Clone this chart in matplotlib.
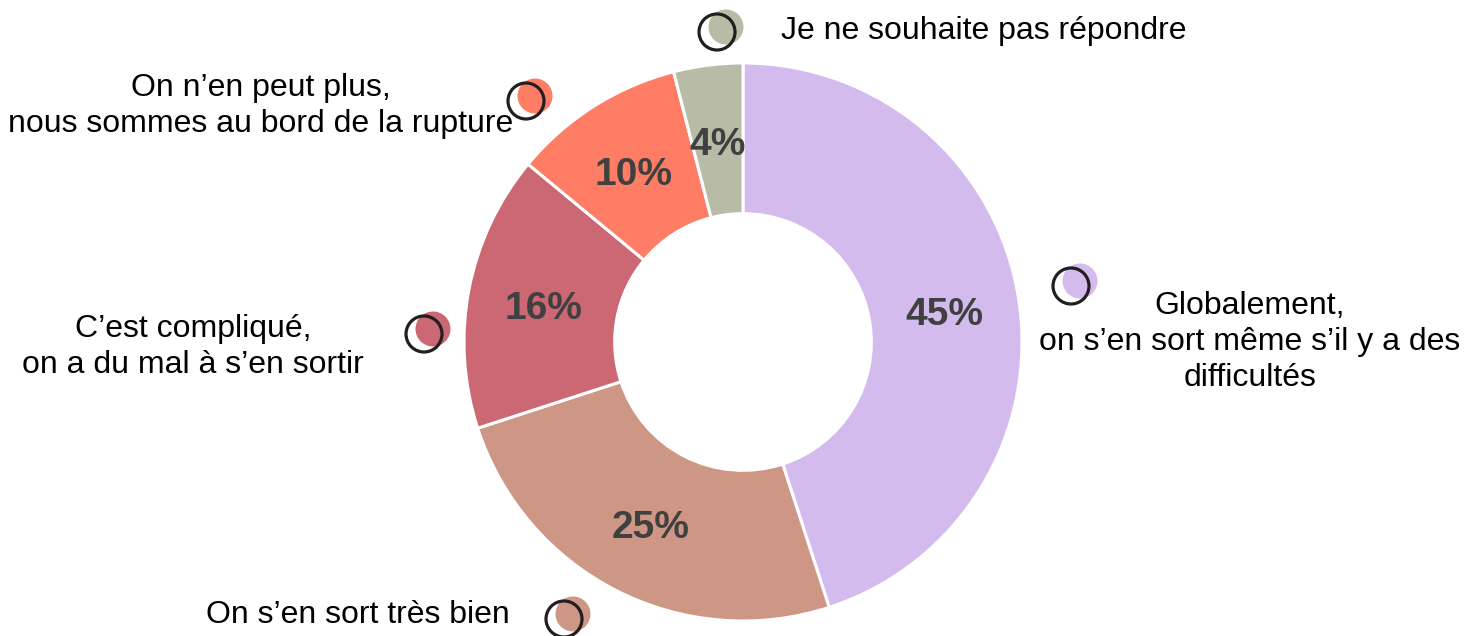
import matplotlib.pyplot as plt
from matplotlib.patches import Circle

plt.rcParams['font.family'] = ['Liberation Sans', 'DejaVu Sans']

# survey answers, clockwise from the top
answers = [
    "Globalement,\non s’en sort même s’il y a des\ndifficultés",
    "On s’en sort très bien",
    "C’est compliqué,\non a du mal à s’en sortir",
    "On n’en peut plus,\nnous sommes au bord de la rupture",
    "Je ne souhaite pas répondre",
]
shares = [45, 25, 16, 10, 4]
colors = ["#D4BBEE", "#CE9684", "#CB6873", "#FF7C65", "#B8BCA6"]

W, H = 1468, 636
fig = plt.figure(figsize=(W / 100, H / 100), dpi=100)
ax = fig.add_axes([0, 0, 1, 1])
ax.set_xlim(0, W)
ax.set_ylim(0, H)
ax.set_aspect('equal')
ax.axis('off')

cx, cy, R = 743, H - 342, 279
wedges, _, pcts = ax.pie(
    shares, colors=colors, startangle=90, counterclock=False,
    center=(cx, cy), radius=R, frame=True,
    autopct=lambda p: f"{round(p)}%", pctdistance=0.73,
    wedgeprops=dict(width=R * 0.54, edgecolor='white', linewidth=2.2),
    textprops=dict(fontsize=28, fontweight='bold', color='#404040'))
ax.set_xlim(0, W)
ax.set_ylim(0, H)
ax.axis('off')

# nudge the percentages so the glyphs sit centred in the ring
for t in pcts:
    x, y = t.get_position()
    t.set_position((x, y - 5))

# legend-like markers and labels placed around the ring (pixel coords, y from top)
marker_pos = [(1071, 286), (564, 619), (424, 334), (526, 101), (717, 32)]
label_pos = [(1250, 342, 'center'), (358, 615, 'center'), (193, 347, 'center'),
             (261, 106, 'center'), (781, 31, 'left')]

for col, (mx, my), (lx, ly, ha), txt in zip(colors, marker_pos, label_pos, answers):
    ax.add_patch(Circle((mx + 9, H - my + 5), 17.5, facecolor=col, edgecolor='none', zorder=3))
    ax.add_patch(Circle((mx, H - my), 18, facecolor='none', edgecolor='#231F20',
                        linewidth=2.3, zorder=4))
    ax.text(lx, H - ly, txt, ha=ha, va='center', fontsize=23, color='black',
            linespacing=1.28, zorder=5)

fig.savefig('out.png', dpi=100)
